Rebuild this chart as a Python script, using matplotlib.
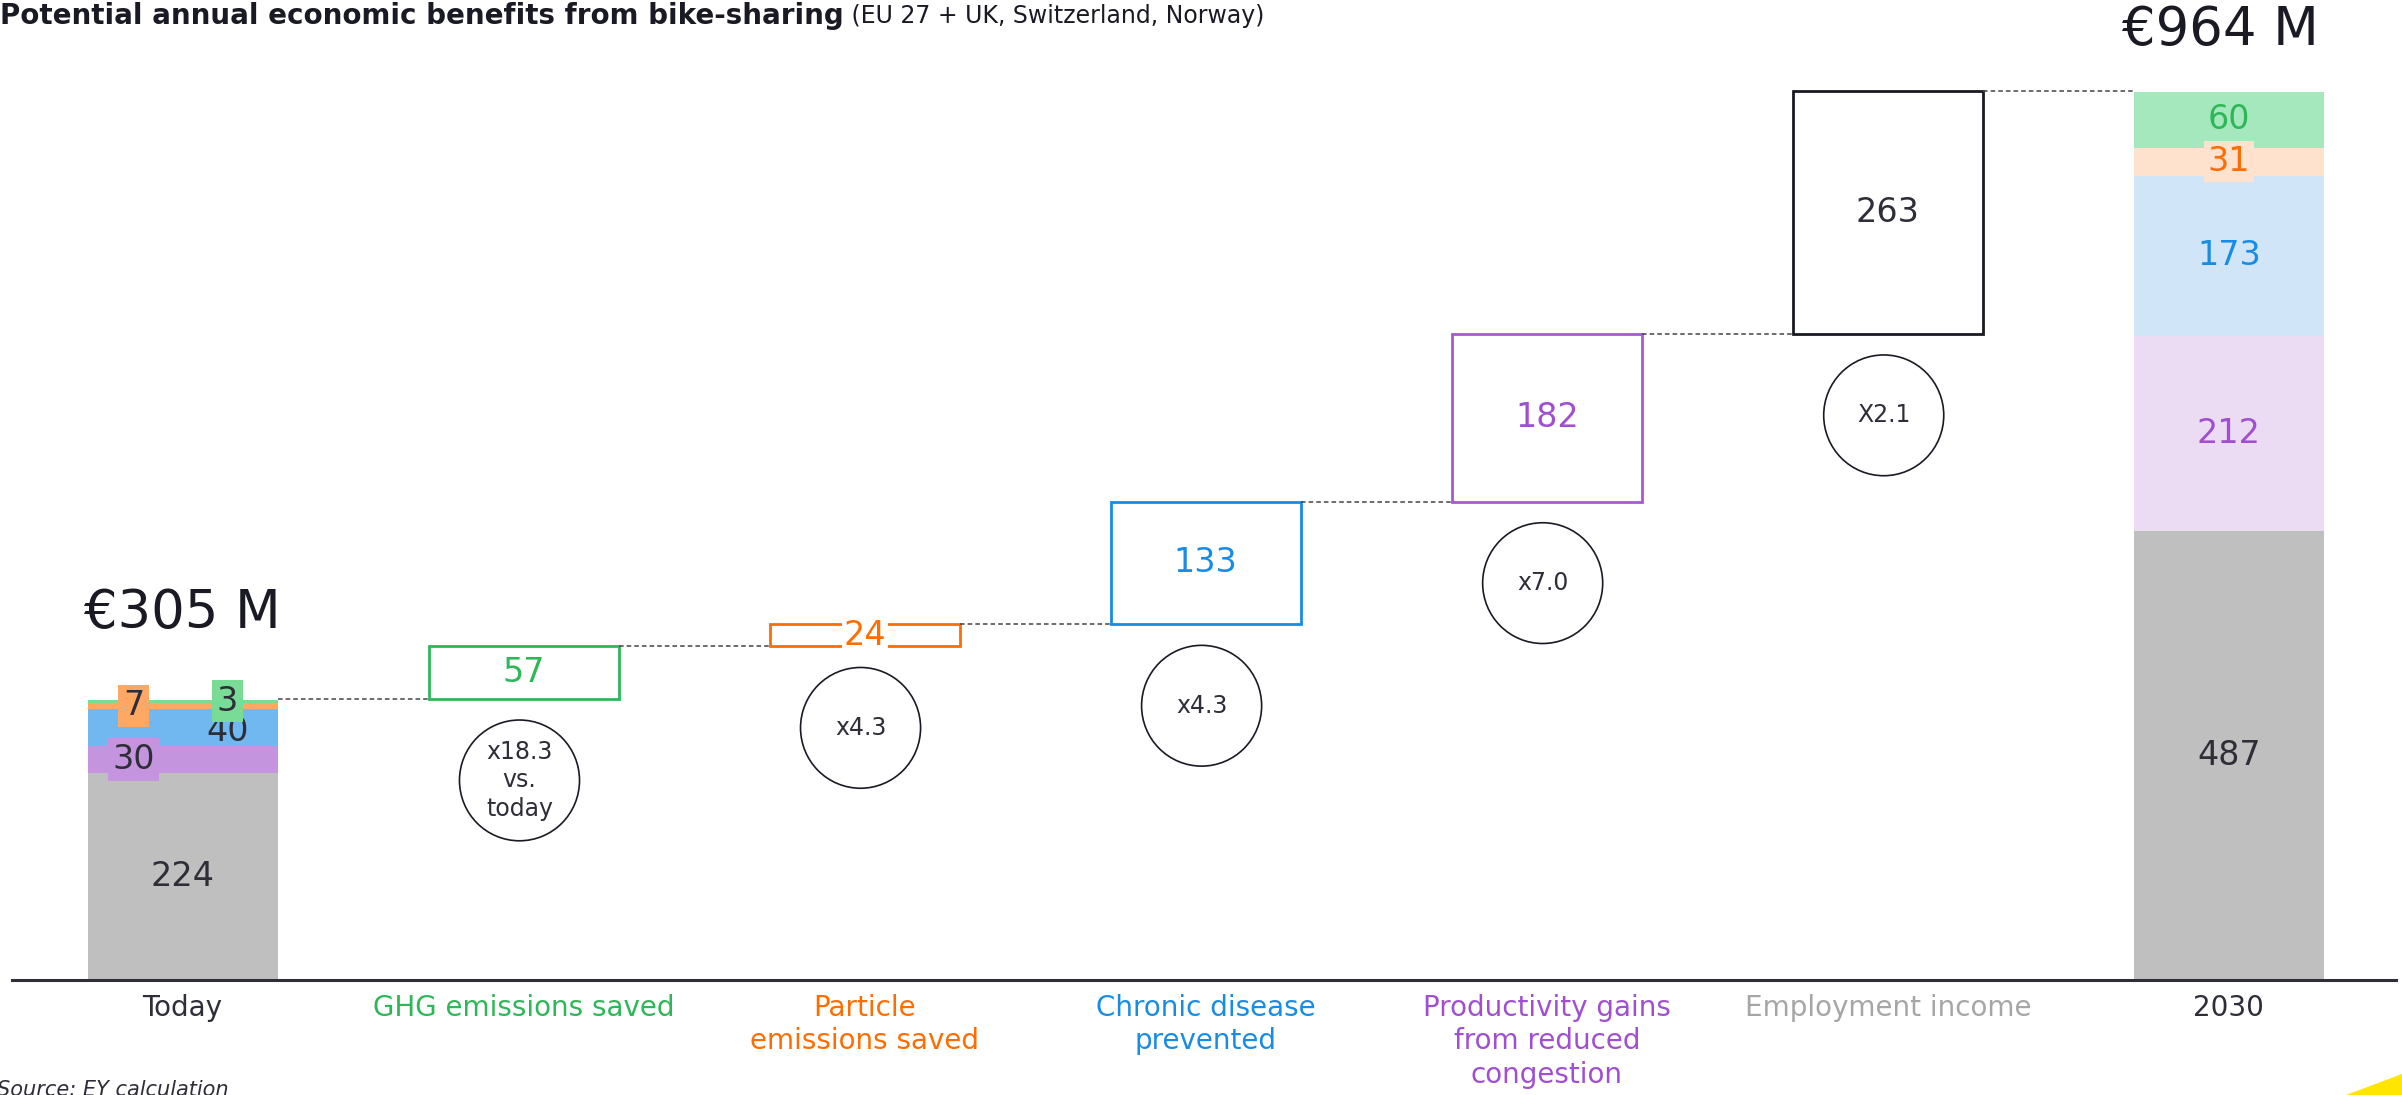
import matplotlib
matplotlib.use("Agg")
import matplotlib.pyplot as plt
from matplotlib.patches import Ellipse, Polygon

plt.rcParams["font.family"] = ["DejaVu Sans"]

# ---- data -------------------------------------------------------------
categories = ["Today", "GHG emissions saved", "Particle\nemissions saved",
              "Chronic disease\nprevented", "Productivity gains\nfrom reduced\ncongestion",
              "Employment income", "2030"]

# stacked components, bottom to top: employment, productivity, chronic disease,
# particle emissions, GHG emissions
today_values = [224, 30, 40, 7, 3]
today_total = 305
# waterfall increments in drawing order: GHG, particle, chronic, productivity, employment
increments = [57, 24, 133, 182, 263]
values_2030 = [487, 212, 173, 31, 60]
total_2030 = 964
multipliers = ["x18.3\nvs.\ntoday", "x4.3", "x4.3", "x7.0", "X2.1"]
total_labels = ["€305 M", "€964 M"]
title_bold = "Potential annual economic benefits from bike-sharing"
title_rest = " (EU 27 + UK, Switzerland, Norway)"
source_note = "Source: EY calculation"

# ---- styling ----------------------------------------------------------
DARK = "#2e2e38"
label_colors = [DARK, "#2db757", "#ff6d00", "#188ce5", "#a04fd1", "#a6a6a6", DARK]
today_colors = ["#bfbfbf", "#c495de", "#70b8ef", "#ffa864", "#79dc96"]
future_colors = ["#bfbfbf", "#ebdcf3", "#d0e6f8", "#ffe2cd", "#a5e8bd"]
future_text = [DARK, "#a04fd1", "#188ce5", "#ff6d00", "#2db757"]
step_edges = ["#2db757", "#ff6d00", "#188ce5", "#a55ad3", "#1a1a24"]
step_text = ["#2db757", "#ff6d00", "#188ce5", "#a04fd1", DARK]

W, H = 2402, 1095
fig = plt.figure(figsize=(W / 100, H / 100), dpi=100)
ax = fig.add_axes([12 / W, 115 / H, 2384 / W, 968 / H])
ax.set_xlim(-0.5, 6.49)
ax.set_ylim(0, 1050)
bar_w = 0.557
num_fs = 24

# ---- today stacked bar --------------------------------------------------
x_today = 0
bottom = 0
today_offsets = [0.0, -0.144, 0.132, -0.144, 0.132]
today_dy = [0, 0, -4, 0, 0]
today_boxes = [None, today_colors[1], None, today_colors[3], today_colors[4]]
for v, c, dx, dy, bc in zip(today_values, today_colors, today_offsets, today_dy, today_boxes):
    ax.bar(x_today, v, bottom=bottom, width=bar_w, color=c, linewidth=0)
    kw = {}
    if bc is not None:
        kw["bbox"] = dict(boxstyle="square,pad=0.14", fc=bc, ec="none")
    ax.text(x_today + dx, bottom + v / 2 + dy, str(v), ha="center", va="center",
            fontsize=num_fs, color=DARK, **kw)
    bottom += v

# ---- waterfall steps ----------------------------------------------------
level = today_total
prev_right = x_today + bar_w / 2
for i, inc in enumerate(increments):
    x = i + 1
    ax.bar(x, inc, bottom=level, width=bar_w, facecolor="white",
           edgecolor=step_edges[i], linewidth=2.0)
    ax.plot([prev_right, x - bar_w / 2], [level, level], color="#444444",
            lw=1.1, ls=(0, (3, 2)))
    kw = {}
    if i == 1:
        kw["bbox"] = dict(boxstyle="square,pad=0.05", fc="white", ec="none")
    ax.text(x, level + inc / 2, str(inc), ha="center", va="center",
            fontsize=num_fs, color=step_text[i], **kw)
    # multiplier badge below the step
    cy = level - 23 - 65.5
    ax.add_patch(Ellipse((x - 0.012, cy), 0.352, 131, facecolor="white",
                         edgecolor="#1a1a24", lw=1.2))
    ax.text(x - 0.012, cy, multipliers[i], ha="center", va="center",
            fontsize=17, color=DARK, linespacing=1.25)
    level += inc
    prev_right = x + bar_w / 2

# ---- 2030 stacked bar ---------------------------------------------------
x_2030 = 6
ax.plot([prev_right, x_2030 - bar_w / 2], [level, level], color="#444444",
        lw=1.1, ls=(0, (3, 2)))
bottom = 0
for j, (v, c, tc) in enumerate(zip(values_2030, future_colors, future_text)):
    ax.bar(x_2030, v, bottom=bottom, width=bar_w, color=c, linewidth=0)
    kw = {}
    if j == 3:
        kw["bbox"] = dict(boxstyle="square,pad=0.12", fc=c, ec="none")
    ax.text(x_2030, bottom + v / 2, str(v), ha="center", va="center",
            fontsize=num_fs, color=tc, **kw)
    bottom += v

# totals above the end bars
ax.text(x_today, 398, total_labels[0], ha="center", va="center",
        fontsize=38, color="#1a1a24")
ax.text(x_2030 - 0.025, 1030, total_labels[1], ha="center", va="center",
        fontsize=38, color="#1a1a24", clip_on=False)

# ---- axes ---------------------------------------------------------------
for s in ["left", "right", "top"]:
    ax.spines[s].set_visible(False)
ax.spines["bottom"].set_color(DARK)
ax.spines["bottom"].set_linewidth(2.2)
ax.set_yticks([])
ax.set_xticks(range(len(categories)), categories)
ax.tick_params(axis="x", length=0, pad=10, labelsize=20)
for lbl, c in zip(ax.get_xticklabels(), label_colors):
    lbl.set_color(c)
    lbl.set_linespacing(1.25)

# ---- title, note, corner accent ----------------------------------------
t1 = fig.text(0.0, 1 - 16 / H, title_bold, fontsize=20, fontweight="semibold",
              color="#1a1a24", va="center", ha="left")
ax.annotate(title_rest, xy=(1, 0.5), xycoords=t1, va="center", ha="left",
            fontsize=17, color="#1a1a24", annotation_clip=False)
fig.text(-3 / W, 1 - 1080 / H, source_note, fontsize=15, style="italic",
         color=DARK, va="top", ha="left")
fig.add_artist(Polygon([(2346 / W, 0), (1, 21 / H), (1, 0)], closed=True,
                       transform=fig.transFigure, facecolor="#ffe600",
                       edgecolor="none"))

fig.savefig("out.png", dpi=100)
